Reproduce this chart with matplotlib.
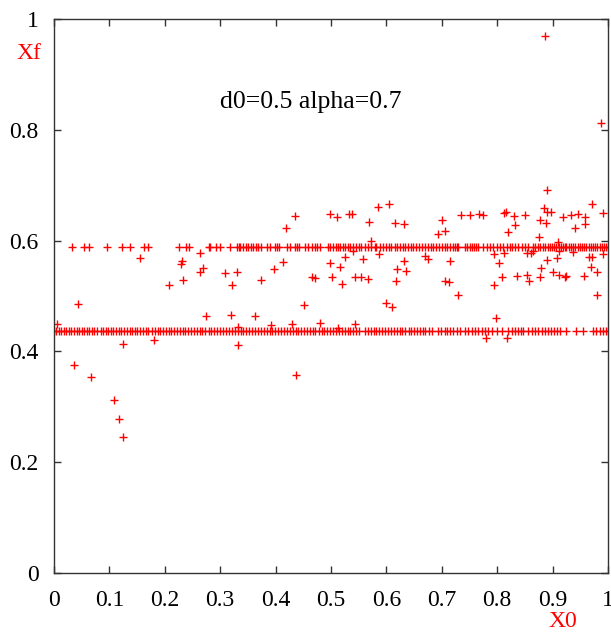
#!/usr/bin/env python3
import matplotlib
matplotlib.use("Agg")
import matplotlib.pyplot as plt

plt.rcParams['font.family'] = ['Liberation Serif', 'DejaVu Serif']

# runs that end on the upper fixed point (Xf ~ 0.589)
band_hi_y = 0.589
band_hi_x = [0.033, 0.054, 0.063, 0.095, 0.122, 0.138, 0.163, 0.170, 0.226, 0.238,
             0.243, 0.279, 0.281, 0.292, 0.300, 0.317, 0.331, 0.334, 0.342,
             0.336, 0.347, 0.351, 0.356, 0.360, 0.365, 0.369, 0.373,
             0.385, 0.390, 0.399, 0.403, 0.407, 0.420, 0.426, 0.435, 0.439, 0.443,
             0.453, 0.459, 0.465, 0.471, 0.475, 0.480,
             0.495, 0.499, 0.504, 0.509, 0.513, 0.517, 0.522, 0.526, 0.530, 0.534,
             0.540, 0.546, 0.551, 0.555, 0.561, 0.567, 0.573, 0.579, 0.582, 0.588,
             0.594, 0.600, 0.605, 0.609, 0.615, 0.619, 0.624, 0.630, 0.633, 0.639,
             0.645, 0.648, 0.654, 0.658, 0.664, 0.669, 0.675, 0.680, 0.684,
             0.690, 0.695, 0.700, 0.706, 0.709, 0.715, 0.721, 0.724, 0.727, 0.730,
             0.742, 0.746, 0.750, 0.754, 0.758, 0.762, 0.766,
             0.775, 0.781, 0.787, 0.793, 0.799, 0.805, 0.811, 0.817, 0.823, 0.827,
             0.832, 0.838, 0.844, 0.850, 0.856, 0.865, 0.869, 0.873, 0.877,
             0.883, 0.887, 0.891, 0.895, 0.899, 0.903, 0.907, 0.911, 0.915, 0.918,
             0.922, 0.925, 0.929, 0.933, 0.937, 0.941, 0.945, 0.949, 0.953, 0.957,
             0.961, 0.965, 0.969, 0.973, 0.977, 0.981, 0.985, 0.989, 0.993, 0.997, 1.000]

# runs that end on the lower fixed point (Xf ~ 0.437)
band_lo_y = 0.437
band_lo_x = [0.000, 0.004, 0.009, 0.013, 0.018, 0.022, 0.027, 0.031, 0.036, 0.041,
             0.046, 0.050, 0.055, 0.060, 0.064, 0.069, 0.073, 0.078, 0.084, 0.089,
             0.093, 0.098, 0.103, 0.107, 0.112, 0.117, 0.121, 0.127, 0.132, 0.137,
             0.141, 0.146, 0.150, 0.155, 0.161, 0.166, 0.170, 0.176, 0.182, 0.187,
             0.192, 0.197, 0.202, 0.207, 0.212, 0.217, 0.222, 0.227, 0.232, 0.237,
             0.242, 0.248, 0.253, 0.258, 0.263, 0.268, 0.273, 0.279, 0.284, 0.289,
             0.294, 0.300, 0.305, 0.310, 0.315, 0.321, 0.326, 0.332, 0.337, 0.342,
             0.347, 0.352, 0.358, 0.363, 0.368, 0.373, 0.379, 0.384, 0.389, 0.394,
             0.399, 0.404, 0.410, 0.415, 0.420, 0.426, 0.431, 0.436, 0.441, 0.446,
             0.452, 0.457, 0.462, 0.467, 0.472, 0.478, 0.483, 0.488, 0.493, 0.499,
             0.504, 0.509, 0.514, 0.519, 0.525, 0.530, 0.535, 0.540, 0.546, 0.551,
             0.561, 0.566, 0.572, 0.577, 0.582, 0.587, 0.592, 0.598, 0.603, 0.608,
             0.613, 0.619, 0.624, 0.629, 0.634, 0.640, 0.645, 0.650, 0.655, 0.661,
             0.666, 0.670, 0.676, 0.682, 0.693, 0.699, 0.705, 0.710, 0.715,
             0.721, 0.727, 0.733, 0.742, 0.748, 0.754, 0.760, 0.766, 0.772, 0.778,
             0.783, 0.790, 0.799, 0.809, 0.820, 0.826, 0.832, 0.838, 0.843, 0.847,
             0.856, 0.862, 0.868, 0.874, 0.880, 0.886, 0.892, 0.897, 0.903, 0.908,
             0.913, 0.925, 0.943, 0.955, 0.973, 0.979, 0.985, 0.991, 0.997, 1.000]

# scattered points off the two bands
scatter_x = [0.005, 0.043, 0.156, 0.037, 0.067, 0.108, 0.118, 0.125, 0.124, 0.180,
             0.208, 0.231, 0.230, 0.233, 0.264, 0.264, 0.269, 0.275, 0.309, 0.322,
             0.320, 0.331, 0.333, 0.333,
             0.418, 0.573, 0.539, 0.586, 0.525, 0.558, 0.670, 0.675, 0.632, 0.498,
             0.413, 0.516, 0.397, 0.619, 0.636, 0.374, 0.465, 0.471, 0.502, 0.520,
             0.544, 0.555, 0.566, 0.618, 0.451, 0.599, 0.611, 0.363, 0.480, 0.392,
             0.430, 0.544, 0.513, 0.437,
             0.435, 0.499, 0.511, 0.532, 0.538, 0.585, 0.605, 0.569, 0.616, 0.631,
             0.890, 0.972, 0.885, 0.889, 0.898, 0.991, 0.734, 0.750, 0.768, 0.775,
             0.813, 0.816, 0.830, 0.851, 0.919, 0.933, 0.946, 0.959, 0.701, 0.877,
             0.888, 0.832, 0.959, 0.941, 0.706, 0.820, 0.694, 0.875, 0.910, 0.715,
             0.794, 0.812, 0.853, 0.861, 0.865, 0.911, 0.936, 0.991, 0.803, 0.890,
             0.908, 0.965, 0.972, 0.970, 0.879, 0.900, 0.980, 0.809, 0.835, 0.853,
             0.878, 0.912, 0.923, 0.925, 0.957, 0.705, 0.713, 0.858, 0.794, 0.729,
             0.981, 0.797, 0.779, 0.818, 0.886, 0.988]
scatter_y = [0.449, 0.486, 0.569, 0.376, 0.354, 0.312, 0.278, 0.245, 0.413, 0.421,
             0.519, 0.564, 0.557, 0.529, 0.578, 0.544, 0.551, 0.464, 0.541, 0.520,
             0.466, 0.543, 0.411, 0.444,
             0.622, 0.600, 0.582, 0.575, 0.570, 0.567, 0.573, 0.566, 0.564, 0.560,
             0.561, 0.553, 0.548, 0.548, 0.546, 0.528, 0.534, 0.532, 0.534, 0.522,
             0.534, 0.534, 0.531, 0.527, 0.484, 0.487, 0.481, 0.464, 0.451, 0.447,
             0.449, 0.449, 0.442, 0.357,
             0.644, 0.648, 0.643, 0.648, 0.648, 0.661, 0.666, 0.634, 0.632, 0.630,
             0.691, 0.666, 0.659, 0.651, 0.651, 0.649, 0.647, 0.646, 0.648, 0.646,
             0.649, 0.651, 0.645, 0.647, 0.643, 0.646, 0.648, 0.643, 0.637, 0.638,
             0.632, 0.629, 0.630, 0.623, 0.617, 0.616, 0.612, 0.606, 0.598, 0.563,
             0.576, 0.578, 0.578, 0.578, 0.581, 0.581, 0.579, 0.576, 0.559, 0.565,
             0.569, 0.570, 0.571, 0.553, 0.551, 0.543, 0.543, 0.534, 0.536, 0.538,
             0.535, 0.538, 0.534, 0.537, 0.536, 0.527, 0.525, 0.527, 0.519, 0.501,
             0.502, 0.460, 0.424, 0.424, 0.969, 0.813]

x_ticks = [0, 0.1, 0.2, 0.3, 0.4, 0.5, 0.6, 0.7, 0.8, 0.9, 1]
x_ticklabels = ["0", "0.1", "0.2", "0.3", "0.4", "0.5", "0.6", "0.7", "0.8", "0.9", "1"]
y_ticks = [0, 0.2, 0.4, 0.6, 0.8, 1]
y_ticklabels = ["0", "0.2", "0.4", "0.6", "0.8", "1"]

fig = plt.figure(figsize=(6.11, 6.32), dpi=100)
ax = fig.add_axes([54/611, 1 - 573/632, 554/611, 554/632])

all_x = band_hi_x + band_lo_x + scatter_x
all_y = [band_hi_y] * len(band_hi_x) + [band_lo_y] * len(band_lo_x) + scatter_y
ax.plot(all_x, all_y, linestyle='none', marker='+', color='red',
        markersize=5.5, markeredgewidth=1.0)

ax.set_xlim(0, 1)
ax.set_ylim(0, 1)
ax.set_xticks(x_ticks)
ax.set_xticklabels(x_ticklabels)
ax.set_yticks(y_ticks)
ax.set_yticklabels(y_ticklabels)
ax.tick_params(direction='in', length=5, width=1, top=True, right=True,
               labelsize=17, color='#333333')
ax.tick_params(axis='x', pad=12)
ax.tick_params(axis='y', pad=11)
for sp in ax.spines.values():
    sp.set_linewidth(1.0)
    sp.set_color('#333333')

ax.text(-0.045, 0.938, "Xf", color='red', fontsize=17, ha='center', va='center',
        transform=ax.transAxes)
ax.text(0.919, -0.088, "X0", color='red', fontsize=17, ha='center', va='center',
        transform=ax.transAxes)
ax.text(0.463, 0.850, "d0=0.5 alpha=0.7", color='black', fontsize=18.5,
        ha='center', va='center', transform=ax.transAxes)

fig.savefig("out.png", dpi=100)
